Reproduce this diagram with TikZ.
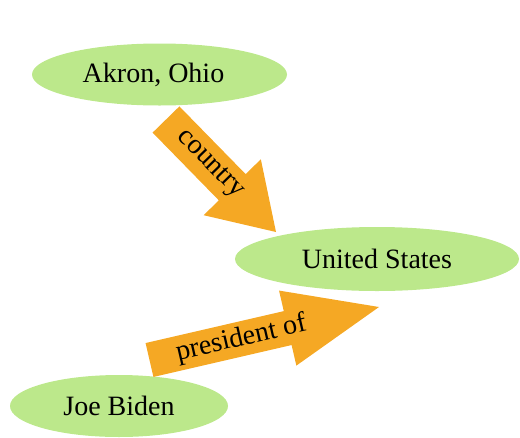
\documentclass[tikz,border=0pt]{standalone}
\usepackage{fontspec}
\setmainfont{Liberation Serif}
\usetikzlibrary{shapes.geometric,calc}
\definecolor{leaf}{RGB}{188,232,139}
\definecolor{amber}{RGB}{245,168,36}
\tikzset{
  entity/.style={ellipse, fill=leaf, inner sep=0pt, font=\fontsize{28}{32}\selectfont},
  relation/.style={fill=amber},
  rellabel/.style={sloped, inner sep=0pt, font=\fontsize{28}{32}\selectfont},
}
% block arrow: #1 tail, #2 tip, #3 half tail width, #4 half head width,
% #5 head length, #6 label, #7 label position along the arrow
\newcommand\blockarr[7]{%
  \coordinate (#1-base) at ($(#2)!#5!(#1)$);
  \fill[relation] ($(#1)!#3!90:(#2)$) -- ($(#1-base)!#3!90:(#2)$)
    -- ($(#1-base)!#4!90:(#2)$) -- (#2) -- ($(#1-base)!#4!-90:(#2)$)
    -- ($(#1-base)!#3!-90:(#2)$) -- ($(#1)!#3!-90:(#2)$) -- cycle;
  \path (#1) -- (#2) node[rellabel, pos=#7] {#6};
}
\begin{document}
\begin{tikzpicture}[x=1pt, y=-1pt]
  \useasboundingbox (0,0) rectangle (520,437);

  \node[entity, minimum width=255pt, minimum height=62pt] (akron) at (159.5,74.5) {Akron, Ohio\hspace*{12pt}};
  \node[entity, minimum width=284pt, minimum height=64pt] (us) at (377,259) {United States};
  \node[entity, minimum width=218pt, minimum height=62pt] (biden) at (119,406) {Joe Biden};

  \coordinate (countryTail) at (166,119.5);
  \coordinate (countryTip) at (276,232);
  \coordinate (presTail) at (149.5,360);
  \coordinate (presTip) at (379,307);

  \blockarr{countryTail}{countryTip}{18.75pt}{40pt}{62.6pt}{country}{0.4}
  \blockarr{presTail}{presTip}{17.4pt}{38.5pt}{93.7pt}{president of}{0.4}
\end{tikzpicture}
\end{document}
